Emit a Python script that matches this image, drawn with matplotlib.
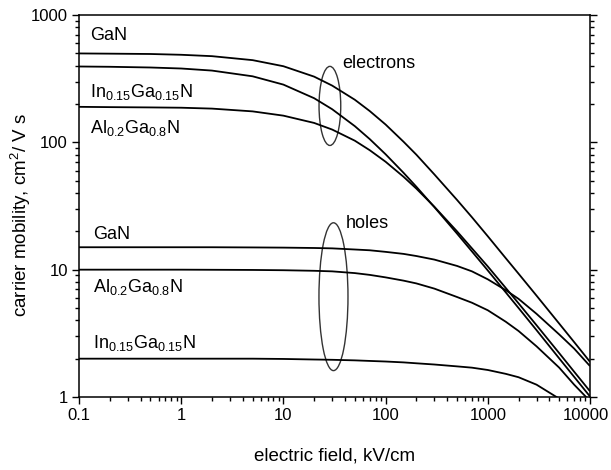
"""
Field-dependent carrier mobility in GaN, AlGaN and InGaN
(electrons and holes), log-log plot.
"""

import matplotlib
matplotlib.use("Agg")
import matplotlib.pyplot as plt
import matplotlib.ticker as ticker
from matplotlib.patches import Ellipse

plt.rcParams["font.family"] = ["Liberation Sans", "DejaVu Sans"]
plt.rcParams["mathtext.default"] = "regular"

# --------------------------------------------------------------------------- #
#  Data: electric field (kV/cm) and mobility (cm^2/V s)                       #
# --------------------------------------------------------------------------- #
field = [0.1, 0.2, 0.5, 1, 2, 5, 10, 20, 30, 50, 70, 100, 150, 200, 300,
         500, 700, 1000, 1500, 2000, 3000, 5000, 7000, 10000]

# electrons
mu_e_gan = [499, 497, 494, 487, 475, 442, 396, 328, 279, 216, 176, 138, 101,
            80, 56, 35.3, 25.8, 18.3, 12.3, 9.3, 6.25, 3.77, 2.70, 1.89]
mu_e_ingan = [394, 392, 387, 380, 366, 330, 284, 222, 182, 134, 106, 80.6,
              57.6, 44.8, 31.0, 19.2, 13.9, 9.86, 6.63, 5.0, 3.35, 2.01, 1.44,
              1.01]
mu_e_algan = [190, 189, 188, 187, 184, 175, 162, 142, 126, 103, 86.7, 70.4,
              53.6, 43.3, 31.2, 20.0, 14.7, 10.6, 7.18, 5.44, 3.66, 2.21, 1.58,
              1.11]

# holes
mu_h_gan = [15.0, 15.0, 15.0, 15.0, 15.0, 14.95, 14.9, 14.8, 14.7, 14.4, 14.2,
            13.8, 13.3, 12.8, 12.0, 10.7, 9.7, 8.4, 6.9, 5.9, 4.5, 3.1, 2.4,
            1.75]
mu_h_algan = [10.0, 10.0, 10.0, 10.0, 9.98, 9.95, 9.9, 9.8, 9.7, 9.4, 9.1,
              8.7, 8.2, 7.8, 7.1, 6.1, 5.5, 4.8, 3.9, 3.3, 2.5, 1.7, 1.25, 0.93]
field_h_ingan = [0.1, 0.2, 0.5, 1, 2, 5, 10, 20, 30, 50, 70, 100, 150, 200,
                 300, 500, 700, 1000, 1500, 2000, 3000, 5000]
mu_h_ingan = [2.0, 2.0, 2.0, 2.0, 2.0, 2.0, 1.99, 1.97, 1.96, 1.94, 1.92, 1.90,
              1.87, 1.84, 1.80, 1.74, 1.70, 1.63, 1.52, 1.43, 1.25, 0.97]

x_ticks = [0.1, 1, 10, 100, 1000, 10000]
y_ticks = [1, 10, 100, 1000]

# --------------------------------------------------------------------------- #
#  Figure                                                                     #
# --------------------------------------------------------------------------- #
fig = plt.figure(figsize=(6.11, 4.70), dpi=100)
ax = fig.add_axes([0.1293, 0.1553, 0.8363, 0.8128])

curve_kw = dict(color="black", lw=1.3, solid_capstyle="butt")
ax.plot(field, mu_e_gan, **curve_kw)
ax.plot(field, mu_e_ingan, **curve_kw)
ax.plot(field, mu_e_algan, **curve_kw)
ax.plot(field, mu_h_gan, **curve_kw)
ax.plot(field, mu_h_algan, **curve_kw)
ax.plot(field_h_ingan, mu_h_ingan, **curve_kw)

ax.set_xscale("log")
ax.set_yscale("log")
ax.set_xlim(0.1, 10000)
ax.set_ylim(1, 1000)

# last x label sits at the figure edge, it is drawn separately a bit inward
x_last = x_ticks[-1]
xfmt = ticker.FuncFormatter(lambda v, _: "" if v == x_last else f"{v:g}")
yfmt = ticker.FuncFormatter(lambda v, _: f"{v:g}")
ax.xaxis.set_major_locator(ticker.FixedLocator(x_ticks))
ax.yaxis.set_major_locator(ticker.FixedLocator(y_ticks))
ax.xaxis.set_major_formatter(xfmt)
ax.yaxis.set_major_formatter(yfmt)
ax.xaxis.set_minor_locator(ticker.LogLocator(base=10, subs=range(2, 10)))
ax.yaxis.set_minor_locator(ticker.LogLocator(base=10, subs=range(2, 10)))
ax.xaxis.set_minor_formatter(ticker.NullFormatter())
ax.yaxis.set_minor_formatter(ticker.NullFormatter())

ax.tick_params(which="both", direction="out", top=False, right=True,
               labelsize=12, width=1.0, pad=3)
ax.tick_params(which="major", length=5)
ax.tick_params(which="minor", length=3)
for sp in ax.spines.values():
    sp.set_linewidth(1.1)

ax.annotate(f"{x_last:g}", xy=(x_last, 0), xycoords=("data", "axes fraction"),
            xytext=(-3.3, -8), textcoords="offset points",
            ha="center", va="top", fontsize=12)

ax.set_xlabel("electric field, kV/cm", fontsize=13.5)
ax.set_ylabel("carrier mobility, cm$^2$/ V s", fontsize=13.5)
ax.xaxis.set_label_coords(0.5, -0.133)
ax.yaxis.set_label_coords(-0.090, 0.476)

# curve labels
lab_kw = dict(fontsize=13, ha="left", va="baseline")
ax.text(0.128, 637, "GaN", **lab_kw)
ax.text(0.128, 228, "In$_{0.15}$Ga$_{0.15}$N", **lab_kw)
ax.text(0.128, 118, "Al$_{0.2}$Ga$_{0.8}$N", **lab_kw)
ax.text(0.137, 17.3, "GaN", **lab_kw)
ax.text(0.137, 6.72, "Al$_{0.2}$Ga$_{0.8}$N", **lab_kw)
ax.text(0.137, 2.41, "In$_{0.15}$Ga$_{0.15}$N", **lab_kw)
ax.text(38, 382, "electrons", **lab_kw)
ax.text(41, 21.1, "holes", **lab_kw)

# group markers around the electron and hole curves
ell_kw = dict(transform=ax.transAxes, fill=False, edgecolor="#333333",
              lw=1.0)
ax.add_patch(Ellipse((0.491, 0.762), 0.0425, 0.207, **ell_kw))
ax.add_patch(Ellipse((0.498, 0.2626), 0.0568, 0.387, **ell_kw))

fig.savefig("out.png", dpi=100)
plt.close(fig)
